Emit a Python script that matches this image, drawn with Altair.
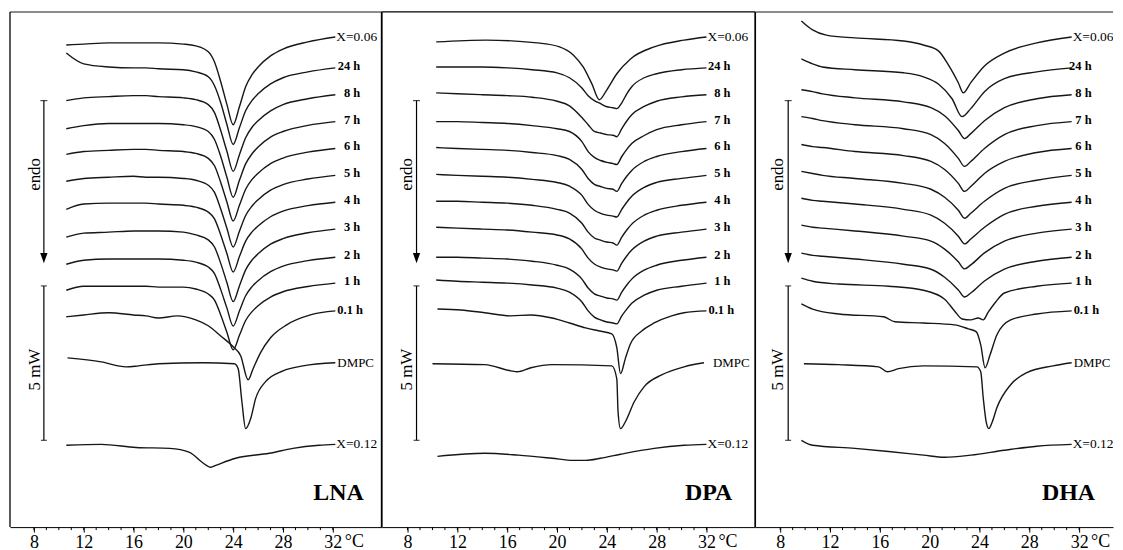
import altair as alt
import pandas as pd

SERIF = "Liberation Serif"
PANELS = ["LNA", "DPA", "DHA"]

# ---------------------------------------------------------------- data
# trace names (top to bottom) and the level (mW above frame bottom) of each trace's right end
LABELS = ["X=0.06", "24 h", "8 h", "7 h", "6 h", "5 h", "4 h", "3 h", "2 h", "1 h", "0.1 h", "DMPC", "X=0.12"]
LEVELS = [15.87, 14.87, 14.00, 13.13, 12.26, 11.39, 10.52, 9.65, 8.74, 7.90, 7.00, 5.32, 2.68]
HOURS = ["24 h", "8 h", "7 h", "6 h", "5 h", "4 h", "3 h", "2 h", "1 h"]
MAJOR_TICKS = [8, 12, 16, 20, 24, 28, 32]
MINOR_TICKS = list(range(8, 33))

# heat flow relative to the right end of each trace (mW, endo down = negative)
LNA_T = [10.6, 12, 14, 16, 17, 18, 20, 21, 22, 22.5, 23, 23.5, 24, 24.5, 25, 25.5, 26, 27, 28, 30, 32.2]
LNA = {
    "X=0.06": (LNA_T, [-0.26, -0.23, -0.19, -0.19, -0.19, -0.19, -0.23, -0.29, -0.48, -0.81, -1.45, -2.19, -2.84, -2.26, -1.61, -1.23, -0.97, -0.61, -0.39, -0.16, 0]),
    "24 h": (LNA_T, [0.48, 0.13, 0.03, 0, 0, -0.03, -0.06, -0.13, -0.29, -0.58, -1.13, -1.84, -2.48, -1.94, -1.39, -1.06, -0.84, -0.52, -0.32, -0.13, 0]),
    "8 h": (LNA_T, [-0.19, -0.10, -0.06, -0.03, -0.03, -0.06, -0.10, -0.16, -0.32, -0.58, -1.16, -1.84, -2.48, -1.94, -1.39, -1.06, -0.84, -0.52, -0.32, -0.13, 0]),
    "7 h": (LNA_T, [-0.23, -0.13, -0.06, -0.06, -0.06, -0.06, -0.10, -0.16, -0.32, -0.58, -1.13, -1.81, -2.45, -1.90, -1.37, -1.05, -0.82, -0.50, -0.32, -0.12, 0]),
    "6 h": (LNA_T, [-0.19, -0.10, -0.06, -0.03, -0.03, -0.06, -0.10, -0.16, -0.32, -0.56, -1.10, -1.74, -2.35, -1.84, -1.32, -1.01, -0.80, -0.49, -0.31, -0.12, 0]),
    "5 h": (LNA_T, [-0.19, -0.10, -0.06, -0.03, -0.06, -0.06, -0.10, -0.16, -0.32, -0.55, -1.09, -1.72, -2.32, -1.81, -1.30, -1.00, -0.79, -0.48, -0.30, -0.12, 0]),
    "4 h": (LNA_T, [-0.23, -0.06, -0.03, -0.03, -0.03, -0.06, -0.10, -0.16, -0.32, -0.54, -1.06, -1.67, -2.26, -1.76, -1.26, -0.97, -0.77, -0.47, -0.29, -0.11, 0]),
    "3 h": (LNA_T, [-0.26, -0.13, -0.10, -0.06, -0.06, -0.06, -0.10, -0.19, -0.35, -0.58, -1.11, -1.74, -2.35, -1.84, -1.32, -1.01, -0.80, -0.49, -0.31, -0.12, 0]),
    "2 h": (LNA_T, [-0.23, -0.10, -0.06, -0.06, -0.06, -0.06, -0.10, -0.16, -0.32, -0.53, -1.05, -1.65, -2.23, -1.74, -1.25, -0.96, -0.76, -0.47, -0.29, -0.11, 0]),
    "1 h": (LNA_T, [-0.23, -0.10, -0.10, -0.10, -0.10, -0.13, -0.13, -0.19, -0.35, -0.55, -1.03, -1.60, -2.16, -1.69, -1.21, -0.93, -0.73, -0.45, -0.28, -0.11, 0]),
    "0.1 h": ([10.6, 12, 14, 16, 17, 18, 19.5, 21, 22, 23, 24, 24.6, 25.2, 25.6, 26.2, 27, 28.3, 30.2, 32.2],
              [-0.19, -0.13, -0.06, -0.13, -0.16, -0.23, -0.16, -0.29, -0.48, -0.81, -1.16, -1.45, -2.23, -1.87, -1.35, -0.87, -0.45, -0.13, 0]),
    "DMPC": ([10.7, 13.4, 15.4, 16.4, 18, 21.5, 24.1, 24.4, 24.7, 25.0, 25.4, 25.8, 26.6, 28, 29.6, 32.2],
             [0.16, 0.03, -0.13, -0.10, -0.03, 0, -0.03, -0.19, -1.26, -2.13, -1.81, -1.16, -0.61, -0.26, -0.10, 0]),
    "X=0.12": ([10.6, 13.4, 16.2, 18.9, 20.5, 21.5, 22.2, 22.6, 24.2, 26.9, 28.8, 30.9, 32.2],
               [-0.03, 0, -0.10, -0.13, -0.26, -0.58, -0.74, -0.68, -0.45, -0.29, -0.13, -0.03, 0]),
}

DPA_T = [10.3, 12, 14, 16, 18, 20, 21, 22, 22.5, 23, 23.5, 24, 24.5, 24.8, 25.2, 25.6, 26, 27, 28, 30, 32.0]
DPA = {
    "X=0.06": ([10.3, 14.3, 18.4, 20.2, 21.3, 22.1, 22.8, 23.4, 24.0, 24.8, 25.9, 27.8, 30.2, 32.0],
               [-0.16, -0.10, -0.19, -0.32, -0.58, -0.97, -1.52, -2.03, -1.71, -1.19, -0.71, -0.32, -0.10, 0]),
    "24 h": (DPA_T, [0.03, 0.03, 0.03, 0, -0.06, -0.16, -0.32, -0.65, -0.90, -1.06, -1.16, -1.26, -1.29, -1.32, -1.13, -0.84, -0.61, -0.32, -0.19, -0.06, 0]),
    "8 h": (DPA_T, [0.06, 0.03, 0, -0.03, -0.08, -0.21, -0.36, -0.74, -0.97, -1.19, -1.24, -1.29, -1.31, -1.36, -1.10, -0.85, -0.65, -0.38, -0.21, -0.07, 0]),
    "7 h": (DPA_T, [0, 0, -0.03, -0.06, -0.13, -0.23, -0.32, -0.65, -0.97, -1.16, -1.26, -1.32, -1.36, -1.39, -1.13, -0.90, -0.71, -0.45, -0.26, -0.10, 0]),
    "6 h": (DPA_T, [0.03, 0, -0.03, -0.06, -0.13, -0.23, -0.35, -0.68, -0.97, -1.16, -1.23, -1.29, -1.32, -1.39, -1.13, -0.90, -0.71, -0.42, -0.26, -0.10, 0]),
    "5 h": (DPA_T, [0.03, 0, -0.03, -0.06, -0.13, -0.23, -0.35, -0.65, -0.94, -1.13, -1.23, -1.29, -1.32, -1.35, -1.10, -0.87, -0.68, -0.39, -0.23, -0.10, 0]),
    "4 h": (DPA_T, [0.03, 0.03, 0, -0.03, -0.10, -0.23, -0.35, -0.68, -0.97, -1.16, -1.23, -1.29, -1.32, -1.39, -1.13, -0.90, -0.71, -0.42, -0.26, -0.10, 0]),
    "3 h": (DPA_T, [0.06, 0.03, 0, -0.03, -0.10, -0.19, -0.32, -0.65, -0.94, -1.13, -1.23, -1.29, -1.32, -1.36, -1.10, -0.87, -0.68, -0.39, -0.23, -0.10, 0]),
    "2 h": (DPA_T, [0, 0, -0.03, -0.06, -0.13, -0.26, -0.39, -0.71, -1.00, -1.19, -1.26, -1.32, -1.35, -1.39, -1.13, -0.90, -0.71, -0.42, -0.26, -0.10, 0]),
    "1 h": (DPA_T, [0.10, 0.06, 0.03, 0, -0.06, -0.16, -0.29, -0.61, -0.90, -1.10, -1.19, -1.26, -1.29, -1.32, -1.06, -0.84, -0.65, -0.39, -0.23, -0.10, 0]),
    "0.1 h": ([10.4, 12.3, 14.2, 16.3, 17.9, 19.6, 21.0, 22.3, 23.4, 24.4, 24.8, 25.1, 25.5, 25.9, 26.8, 27.8, 29.2, 30.2, 32.0],
              [0.06, 0.03, -0.06, -0.16, -0.13, -0.23, -0.39, -0.55, -0.65, -0.74, -1.19, -2.03, -1.52, -1.06, -0.65, -0.39, -0.16, -0.06, 0]),
    "DMPC": ([10.0, 14.2, 16.3, 16.8, 17.9, 19.6, 24.4, 24.8, 24.9, 25.1, 25.5, 26.2, 27.0, 28.4, 30.2, 31.8],
             [-0.03, -0.06, -0.26, -0.29, -0.16, -0.06, -0.10, -0.52, -1.58, -2.13, -1.90, -1.26, -0.77, -0.39, -0.13, 0]),
    "X=0.12": ([10.4, 14.2, 16.9, 19.6, 21.3, 22.3, 23.5, 25.1, 27.8, 30.2, 32.0],
               [-0.39, -0.29, -0.35, -0.45, -0.52, -0.52, -0.45, -0.32, -0.13, -0.03, 0]),
}

DHA_T = [9.7, 10.6, 11.4, 14.0, 17.9, 20.1, 21.2, 22.3, 22.8, 23.3, 24.4, 26.0, 28.6, 31.4]
DHA = {
    "X=0.06": ([9.7, 10.6, 11.7, 14.0, 17.9, 19.5, 20.7, 21.5, 22.3, 22.7, 23.3, 24.4, 26.0, 28.6, 31.4],
               [0.52, 0.23, 0.06, -0.03, -0.13, -0.26, -0.45, -0.90, -1.48, -1.81, -1.48, -0.94, -0.52, -0.19, 0]),
    "24 h": ([9.7, 10.6, 11.4, 14.0, 17.9, 19.5, 20.7, 21.8, 22.6, 23.3, 24.4, 26.0, 28.6, 31.4],
             [0.29, 0.13, 0.03, -0.06, -0.16, -0.29, -0.52, -1.00, -1.58, -1.32, -0.77, -0.35, -0.13, 0]),
    "8 h": (DHA_T, [0.16, 0.10, 0.03, -0.10, -0.23, -0.42, -0.68, -1.16, -1.42, -1.26, -0.84, -0.42, -0.13, 0]),
    "7 h": (DHA_T, [0.16, 0.10, 0.03, -0.10, -0.23, -0.42, -0.71, -1.19, -1.45, -1.29, -0.87, -0.42, -0.13, 0]),
    "6 h": (DHA_T, [0.13, 0.06, 0.03, -0.10, -0.23, -0.42, -0.68, -1.13, -1.39, -1.23, -0.81, -0.42, -0.13, 0]),
    "5 h": (DHA_T, [0.13, 0.06, 0, -0.10, -0.26, -0.45, -0.71, -1.13, -1.39, -1.23, -0.84, -0.42, -0.16, 0]),
    "4 h": (DHA_T, [0.13, 0.06, 0.03, -0.06, -0.23, -0.42, -0.68, -1.10, -1.35, -1.19, -0.81, -0.39, -0.13, 0]),
    "3 h": (DHA_T, [0.13, 0.06, 0.03, -0.06, -0.23, -0.39, -0.65, -1.06, -1.29, -1.16, -0.77, -0.39, -0.13, 0]),
    "2 h": (DHA_T, [0.13, 0.06, 0.03, -0.06, -0.23, -0.39, -0.65, -1.06, -1.29, -1.16, -0.77, -0.39, -0.13, 0]),
    "1 h": ([9.7, 10.6, 12.7, 16.7, 19.5, 21.2, 22.0, 22.6, 23.3, 23.9, 24.3, 24.7, 25.3, 26.0, 28.6, 31.4],
            [0.16, 0.06, -0.03, -0.10, -0.23, -0.52, -0.90, -1.16, -1.19, -1.13, -1.19, -0.94, -0.61, -0.32, -0.10, 0]),
    "0.1 h": ([9.7, 10.6, 12.7, 16.3, 17.2, 19.5, 22.0, 23.1, 23.75, 24.1, 24.45, 24.85, 25.4, 26.5, 28.6, 31.4],
              [0.23, 0.06, -0.10, -0.19, -0.35, -0.39, -0.45, -0.58, -0.68, -1.10, -1.84, -1.42, -0.77, -0.29, -0.10, 0]),
    "DMPC": ([9.9, 12.7, 15.9, 16.6, 17.5, 19.5, 23.8, 24.1, 24.3, 24.55, 24.75, 25.0, 25.4, 26.5, 27.8, 29.9, 31.4],
             [-0.03, -0.06, -0.13, -0.29, -0.19, -0.10, -0.13, -0.29, -1.13, -1.94, -2.13, -1.94, -1.45, -0.71, -0.32, -0.10, 0]),
    "X=0.12": ([9.7, 10.6, 14.0, 16.7, 19.5, 21.2, 23.3, 26.0, 28.6, 31.4],
               [0.13, -0.03, -0.13, -0.23, -0.35, -0.42, -0.35, -0.19, -0.06, 0]),
}
CURVES = {"LNA": LNA, "DPA": DPA, "DHA": DHA}

# annotations: endo arrow and 5 mW bar (mW levels), panel title position
ENDO_ARROW = [13.81, 8.71]        # shaft top, arrow-head centre
SCALE_BAR = [7.81, 2.81]          # 5 mW
ENDO_TEXT_Y, MW_TEXT_Y, TITLE_Y = 11.42, 5.10, 1.10
ARROW_T = {"LNA": 8.8, "DPA": 8.72, "DHA": 8.64}
SIDE_TEXT_T = {"LNA": 8.12, "DPA": 7.98, "DHA": 7.8}
TITLE_T = {"LNA": 34.48, "DPA": 34.08, "DHA": 33.28}

# ---------------------------------------------------------------- layout / style
X_DOMAIN = {"LNA": [6.08, 35.92], "DPA": [5.92, 35.92], "DHA": [6.0, 34.72]}
WIDTH = {"LNA": 373, "DPA": 375, "DHA": 359}
HEIGHT = 517
Y_DOMAIN = [0.0, 16.68]
HOUR_DX = {"LNA": 25, "DPA": 24, "DHA": 20}
DMPC_DX = {"LNA": 2, "DPA": 9, "DHA": 2}
FRAME = {
    "LNA": [("top", "#8c8c8c", 2), ("left", "black", 1.3), ("right", "black", 1.5)],
    "DPA": [("top", "black", 1.2), ("left", "black", 1.5), ("right", "black", 1.3)],
    "DHA": [("top", "#8c8c8c", 2), ("left", "black", 1.5)],
}
ARROW_SHAPE = "M -0.7 -1 L 0.7 -1 L 0 1 Z"

curve_rows, label_rows = [], []
for p in PANELS:
    for k, lab in enumerate(LABELS):
        temps, sig = CURVES[p][lab]
        for i, (t, s) in enumerate(zip(temps, sig)):
            curve_rows.append({"panel": p, "label": lab, "i": i, "T": t, "y": LEVELS[k] + s})
        if lab in HOURS:
            kind = "hour"
        elif lab == "0.1 h":
            kind = "tail"
        elif lab == "DMPC":
            kind = "dmpc"
        else:
            kind = "sample"
        label_rows.append({"panel": p, "label": lab, "T": temps[-1], "y": LEVELS[k] + sig[-1], "kind": kind})
curves_df = pd.DataFrame(curve_rows)
labels_df = pd.DataFrame(label_rows)


def edge(W, H, side, color, width):
    d = pd.DataFrame({"a": [0]})
    if side == "top":
        enc = dict(x=alt.value(0), x2=alt.value(W), y=alt.value(0))
    elif side == "left":
        enc = dict(x=alt.value(0), y=alt.value(0), y2=alt.value(H))
    else:
        enc = dict(x=alt.value(W), y=alt.value(0), y2=alt.value(H))
    return alt.Chart(d).mark_rule(color=color, strokeWidth=width).encode(**enc)


def panel(p):
    W, H = WIDTH[p], HEIGHT
    xs = alt.Scale(domain=X_DOMAIN[p], nice=False, zero=False)
    ys = alt.Scale(domain=Y_DOMAIN, nice=False, zero=False)
    x_axis = alt.Axis(values=MAJOR_TICKS, title=None, grid=False, tickSize=5, tickColor="black",
                      tickWidth=1, domainColor="black", domainWidth=1, labelFont=SERIF,
                      labelFontSize=18, labelColor="black", labelPadding=1, labelFlush=False)

    def Xf(f):
        return alt.X(f"{f}:Q", scale=xs, axis=x_axis)

    def Yf(f):
        return alt.Y(f"{f}:Q", scale=ys, axis=None)

    X, Y = Xf("T"), Yf("y")
    cdf = curves_df[curves_df.panel == p]
    ldf = labels_df[labels_df.panel == p]
    clip = p == "DHA"

    lines = alt.Chart(cdf).mark_line(interpolate="monotone", color="#161616", strokeWidth=1.4).encode(
        x=X, y=Y, detail="label:N", order="i:Q")
    hour_txt = alt.Chart(ldf[ldf.kind == "hour"]).mark_text(
        align="right", baseline="middle", dx=HOUR_DX[p], dy=-2, font=SERIF, fontSize=12.5,
        fontWeight="bold", color="black", clip=clip).encode(x=X, y=Y, text="label:N")
    tail_txt = alt.Chart(ldf[ldf.kind == "tail"]).mark_text(
        align="left", baseline="middle", dx=2, dy=-1, font=SERIF, fontSize=12.5,
        fontWeight="bold", color="black", clip=clip).encode(x=X, y=Y, text="label:N")
    sample_txt = alt.Chart(ldf[ldf.kind == "sample"]).mark_text(
        align="left", baseline="middle", dx=1, font=SERIF, fontSize=13.5,
        color="black", clip=clip).encode(x=X, y=Y, text="label:N")
    dmpc_txt = alt.Chart(ldf[ldf.kind == "dmpc"]).mark_text(
        align="left", baseline="middle", dx=DMPC_DX[p], font=SERIF, fontSize=13,
        color="black", clip=clip).encode(x=X, y=Y, text="label:N")

    minor = alt.Chart(pd.DataFrame({"T": MINOR_TICKS})).mark_rule(color="black", strokeWidth=1).encode(
        x=X, y=alt.value(H), y2=alt.value(H + 3))

    ann = pd.DataFrame([{
        "Ta": ARROW_T[p], "Ts": SIDE_TEXT_T[p], "Tt": TITLE_T[p], "Tc": 32,
        "a_top": ENDO_ARROW[0], "a_head": ENDO_ARROW[1],
        "s_top": SCALE_BAR[0], "s_bot": SCALE_BAR[1],
        "endo_y": ENDO_TEXT_Y, "mw_y": MW_TEXT_Y, "title_y": TITLE_Y,
    }])
    base = alt.Chart(ann)
    XA, XS = Xf("Ta"), Xf("Ts")

    shaft = base.mark_rule(color="black", strokeWidth=1.2).encode(x=XA, y=Yf("a_top"), y2="a_head:Q")
    cap = base.mark_tick(orient="horizontal", size=7, thickness=1.2, color="black").encode(x=XA, y=Yf("a_top"))
    head = base.mark_point(shape=ARROW_SHAPE, size=110, filled=True, color="black", opacity=1,
                           strokeWidth=0).encode(x=XA, y=Yf("a_head"))
    bar = base.mark_rule(color="black", strokeWidth=1.2).encode(x=XA, y=Yf("s_top"), y2="s_bot:Q")
    cap1 = base.mark_tick(orient="horizontal", size=6, thickness=1.2, color="black").encode(x=XA, y=Yf("s_top"))
    cap2 = base.mark_tick(orient="horizontal", size=6, thickness=1.2, color="black").encode(x=XA, y=Yf("s_bot"))
    endo = base.mark_text(angle=270, align="center", baseline="middle", font=SERIF, fontSize=17,
                          color="black").encode(x=XS, y=Yf("endo_y"), text=alt.value("endo"))
    mw = base.mark_text(angle=270, align="center", baseline="middle", font=SERIF, fontSize=17,
                        color="black").encode(x=XS, y=Yf("mw_y"), text=alt.value("5 mW"))
    title = base.mark_text(align="right", baseline="middle", font=SERIF, fontSize=24, fontWeight="bold",
                           color="black").encode(x=Xf("Tt"), y=Yf("title_y"), text=alt.value(p))
    degc = base.mark_text(align="left", baseline="top", dx=12, dy=6, font=SERIF, fontSize=18,
                          color="black").encode(x=Xf("Tc"), y=alt.value(H), text=alt.value("°C"))

    frame = [edge(W, H, s, c, w) for (s, c, w) in FRAME[p]]
    layers = [lines, hour_txt, tail_txt, sample_txt, dmpc_txt, minor, shaft, cap, head, bar, cap1, cap2,
              endo, mw, title, degc] + frame
    return alt.layer(*layers).properties(width=W, height=H)


chart = alt.hconcat(*[panel(p) for p in PANELS], spacing=0, bounds="flush").properties(
    padding={"left": 0, "top": 1, "right": 0, "bottom": 0}, background="white"
).configure_view(stroke="transparent")

chart.save("out.html", embed_options={"renderer": "svg", "actions": False})
